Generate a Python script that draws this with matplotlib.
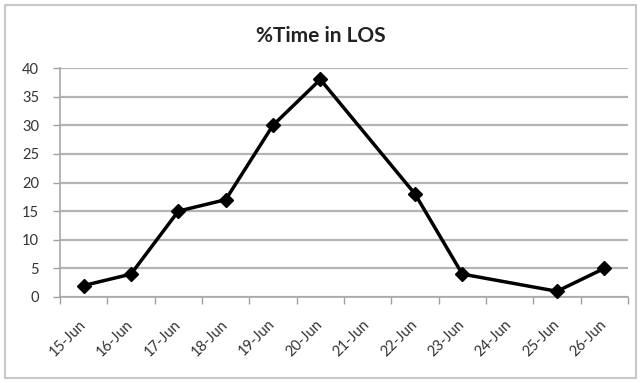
import numpy as np
import matplotlib
matplotlib.use("Agg")
import matplotlib.pyplot as plt
from matplotlib.patches import Rectangle

# data (no value on 21-Jun and 24-Jun)
dates = ['15-Jun', '16-Jun', '17-Jun', '18-Jun', '19-Jun', '20-Jun',
         '21-Jun', '22-Jun', '23-Jun', '24-Jun', '25-Jun', '26-Jun']
pct_time = [2, 4, 15, 17, 30, 38, np.nan, 18, 4, np.nan, 1, 5]
yticks = [0, 5, 10, 15, 20, 25, 30, 35, 40]

plt.rcParams['font.family'] = ['Lato', 'DejaVu Sans']

fig = plt.figure(figsize=(6.41, 3.83), dpi=100)
ax = fig.add_axes([60/641, 1-297/383, 568/641, 229/383])

# light frame round the whole chart, like the excel chart area
fig.patches.append(Rectangle((5/641, 5/383), 631/641, 373/383, transform=fig.transFigure,
                             fill=False, edgecolor='#c8c8c8', linewidth=1.5))

x = np.arange(len(dates))
y = np.array(pct_time, dtype=float)
ok = ~np.isnan(y)
ax.plot(x[ok], y[ok], color='black', linewidth=2.5, marker='D', markersize=7,
        zorder=3, clip_on=False)

ax.set_xlim(-0.5, len(dates) - 0.5)
ax.set_ylim(0, 40)
ax.set_yticks(yticks)
ax.set_yticklabels([str(v) for v in yticks], fontsize=10.5, color='#333333')

# category labels at the centres, tick marks between categories
ax.set_xticks(x)
ax.set_xticklabels(dates, fontsize=10.5, color='#333333', rotation=45,
                   ha='right', va='center', rotation_mode='anchor')
ax.set_xticks(np.arange(-0.5, len(dates)), minor=True)
ax.tick_params(axis='x', which='major', length=0, pad=18)
ax.tick_params(axis='x', which='minor', length=5, color='#a0a0a0', width=1)
ax.tick_params(axis='y', length=5, color='#a0a0a0', width=1, pad=10)

ax.grid(axis='y', color='#b4b4b4', linewidth=1.6)
ax.set_axisbelow(True)
for s in ['top', 'right']:
    ax.spines[s].set_visible(False)
for s in ['left', 'bottom']:
    ax.spines[s].set_color('#a8a8a8')
    ax.spines[s].set_linewidth(1.2)

fig.text(0.5, 1-36/383, '%Time in LOS', ha='center', va='center',
         fontsize=15, fontweight='bold', color='#222222')

fig.savefig('out.png', dpi=100)
